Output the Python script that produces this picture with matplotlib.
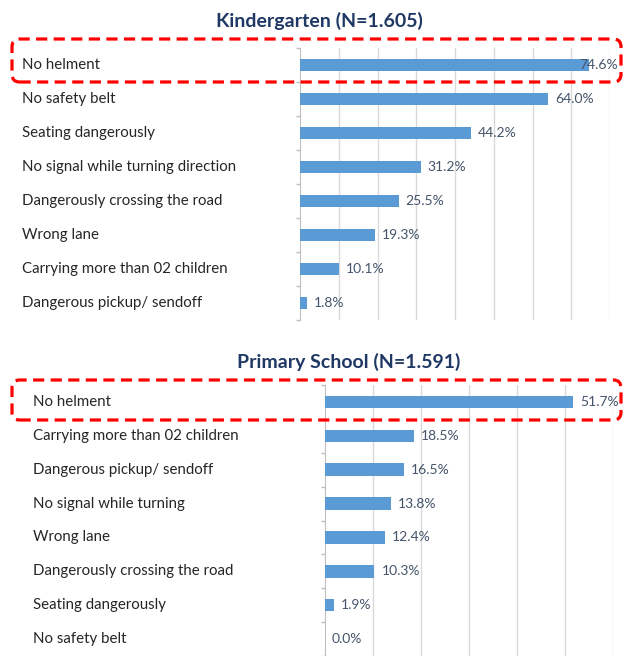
import matplotlib
matplotlib.use("Agg")
import matplotlib.pyplot as plt
from matplotlib.patches import FancyBboxPatch
from matplotlib.transforms import blended_transform_factory

# data
kg_labels = ["No helment", "No safety belt", "Seating dangerously",
             "No signal while turning direction", "Dangerously crossing the road",
             "Wrong lane", "Carrying more than 02 children", "Dangerous pickup/ sendoff"]
kg_values = [74.6, 64.0, 44.2, 31.2, 25.5, 19.3, 10.1, 1.8]

ps_labels = ["No helment", "Carrying more than 02 children", "Dangerous pickup/ sendoff",
             "No signal while turning", "Wrong lane", "Dangerously crossing the road",
             "Seating dangerously", "No safety belt"]
ps_values = [51.7, 18.5, 16.5, 13.8, 12.4, 10.3, 1.9, 0.0]

W, H = 626, 656
BAR = "#5B9BD5"
TXT = "#262626"
VAL = "#44546A"
TITLE = "#1F3864"

plt.rcParams["font.family"] = ["Lato", "DejaVu Sans"]
fig = plt.figure(figsize=(W / 100, H / 100), dpi=100)


def px_axes(x0, y0, x1, y1):
    # pixel box (top-left origin) -> figure axes
    return fig.add_axes([x0 / W, 1 - y1 / H, (x1 - x0) / W, (y1 - y0) / H])


def panel(ax, labels, values, xmax, label_x, title, title_x, title_y):
    n = len(labels)
    ys = list(range(n))
    ax.barh(ys, values, height=0.37, color=BAR, zorder=3)
    ax.set_xlim(0, xmax)
    ax.set_ylim(n - 0.5, -0.5)
    ax.set_xticks(range(10, xmax + 1, 10))
    ax.grid(axis="x", color="#D9D9D9", linewidth=1, zorder=0)
    ax.tick_params(axis="x", length=0, labelbottom=False)
    ax.set_yticks([i + 0.5 for i in range(-1, n)])
    ax.set_yticklabels([])
    ax.tick_params(axis="y", length=3, color="#BFBFBF", width=1)
    for s in ["top", "right", "bottom"]:
        ax.spines[s].set_visible(False)
    ax.spines["left"].set_color("#BFBFBF")

    tr = blended_transform_factory(fig.transFigure, ax.transData)
    for y, lab in zip(ys, labels):
        fig.text(label_x / W, y, lab, transform=tr, ha="left", va="center",
                 fontsize=10.8, color=TXT)
    for y, v in zip(ys, values):
        if v > xmax * 0.9:
            # no room past the bar: pull the label back over the bar end
            ax.annotate(f"{v:.1f}%", (xmax, y), xytext=(6, 0),
                        textcoords="offset points", ha="right", va="center",
                        fontsize=10, color=VAL, zorder=4, annotation_clip=False)
        else:
            ax.annotate(f"{v:.1f}%", (v, y), xytext=(5, 0),
                        textcoords="offset points", ha="left", va="center",
                        fontsize=10, color=VAL, zorder=4)
    fig.text(title_x / W, 1 - title_y / H, title, ha="center", va="center",
             fontsize=14, fontweight="bold", color=TITLE)


def red_box(x0, y0, x1, y1):
    box = FancyBboxPatch((x0 / W, 1 - y1 / H), (x1 - x0) / W, (y1 - y0) / H,
                         boxstyle="round,pad=0,rounding_size=0.012",
                         transform=fig.transFigure, fill=False,
                         edgecolor="#FF0000", linewidth=2.3,
                         linestyle=(0, (3.5, 2)), zorder=10)
    fig.patches.append(box)


ax1 = px_axes(300, 48, 610, 320)
panel(ax1, kg_labels, kg_values, 80, 22, "Kindergarten (N=1.605)", 319, 21)

ax2 = px_axes(325, 385, 613, 656)
panel(ax2, ps_labels, ps_values, 60, 33, "Primary School (N=1.591)", 349, 362)

red_box(12, 39, 621, 82)
red_box(12, 380, 621, 420)

fig.savefig("out.png", dpi=100)
